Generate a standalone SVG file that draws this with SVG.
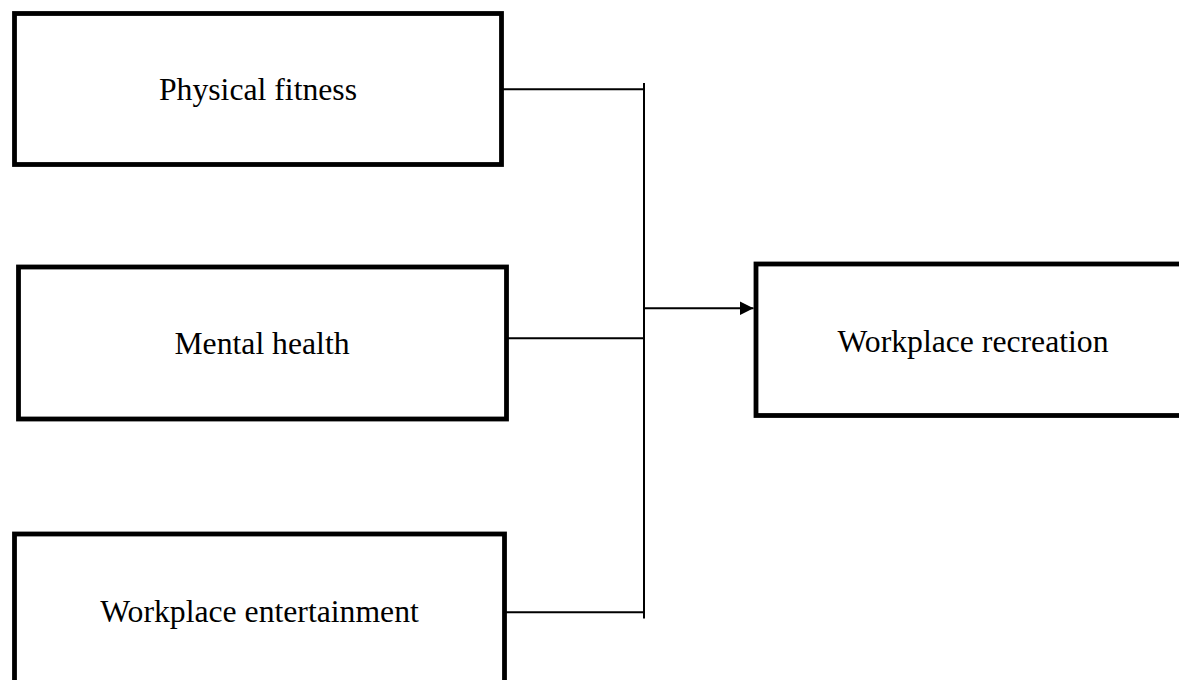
<svg xmlns="http://www.w3.org/2000/svg" width="1179" height="680" viewBox="0 0 1179 680">
<style>
.box{fill:#fff;stroke:#000;stroke-width:4.8;stroke-linejoin:miter}
.lbl{font-family:"Liberation Serif","Times New Roman",serif;font-size:31.7px;fill:#000;text-anchor:middle}
.con{stroke:#000;stroke-width:2;fill:none}
</style>
<defs>
<marker id="arr" markerUnits="userSpaceOnUse" markerWidth="14" markerHeight="14" refX="14" refY="7" orient="auto">
<path d="M0,0 L14,7 L0,14 Z" fill="#000"/>
</marker>
</defs>
<g id="physical-fitness">
<rect class="box" x="14.5" y="13.5" width="487" height="151"/>
<text class="lbl" x="258" y="100">Physical fitness</text>
</g>
<g id="mental-health">
<rect class="box" x="18.5" y="267" width="488" height="152"/>
<text class="lbl" x="262" y="354">Mental health</text>
</g>
<g id="workplace-entertainment">
<rect class="box" x="14.5" y="534" width="490" height="170"/>
<text class="lbl" x="259.5" y="621.5">Workplace entertainment</text>
</g>
<g id="workplace-recreation">
<rect class="box" x="756" y="264" width="434" height="151.5"/>
<text class="lbl" x="973" y="351.5">Workplace recreation</text>
</g>
<g id="connectors">
<line class="con" x1="503" y1="89.3" x2="644" y2="89.3"/>
<line class="con" x1="508" y1="338.3" x2="644" y2="338.3"/>
<line class="con" x1="506" y1="612.3" x2="644" y2="612.3"/>
<line class="con" x1="644" y1="83" x2="644" y2="618.5"/>
<line class="con" x1="644" y1="308.3" x2="753.5" y2="308.3" marker-end="url(#arr)"/>
</g>
</svg>
